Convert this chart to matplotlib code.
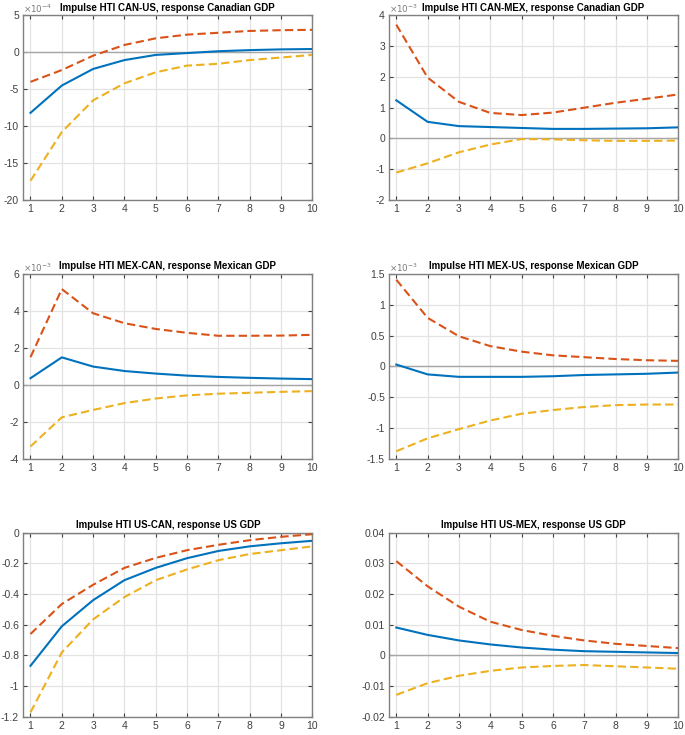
"""
Impulse responses (HTI shocks) on GDP, 3x2 panel grid in MATLAB style
"""

import matplotlib
matplotlib.use('Agg')
import matplotlib.pyplot as plt
from matplotlib.ticker import FuncFormatter, MultipleLocator

plt.rcParams['axes.unicode_minus'] = False
plt.rcParams['font.family'] = 'Liberation Sans'

horizon = [1, 2, 3, 4, 5, 6, 7, 8, 9, 10]

titles = ['Impulse HTI CAN-US, response Canadian GDP',
          'Impulse HTI CAN-MEX, response Canadian GDP',
          'Impulse HTI MEX-CAN, response Mexican GDP',
          'Impulse HTI MEX-US, response Mexican GDP',
          'Impulse HTI US-CAN, response US GDP',
          'Impulse HTI US-MEX, response US GDP']

# point estimates
irf_can_us = [-8.2e-4, -4.5e-4, -2.25e-4, -1.05e-4, -0.35e-4, -0.1e-4, 0.15e-4, 0.3e-4, 0.4e-4, 0.45e-4]
irf_can_mex = [1.24e-3, 0.54e-3, 0.40e-3, 0.37e-3, 0.34e-3, 0.31e-3, 0.31e-3, 0.32e-3, 0.33e-3, 0.36e-3]
irf_mex_can = [0.36e-3, 1.49e-3, 0.99e-3, 0.75e-3, 0.61e-3, 0.50e-3, 0.43e-3, 0.38e-3, 0.34e-3, 0.31e-3]
irf_mex_us = [0.03e-3, -0.13e-3, -0.17e-3, -0.17e-3, -0.17e-3, -0.16e-3, -0.14e-3, -0.13e-3, -0.12e-3, -0.10e-3]
irf_us_can = [-0.867, -0.61, -0.44, -0.31, -0.23, -0.167, -0.12, -0.09, -0.07, -0.054]
irf_us_mex = [0.0091, 0.0067, 0.0049, 0.0036, 0.0026, 0.0019, 0.0014, 0.0012, 0.0010, 0.0008]

# upper bands
up_can_us = [-4.0e-4, -2.4e-4, -0.45e-4, 1.0e-4, 1.9e-4, 2.4e-4, 2.65e-4, 2.9e-4, 3.0e-4, 3.05e-4]
up_can_mex = [3.7e-3, 1.98e-3, 1.19e-3, 0.83e-3, 0.76e-3, 0.84e-3, 1.0e-3, 1.16e-3, 1.29e-3, 1.43e-3]
up_mex_can = [1.5e-3, 5.19e-3, 3.88e-3, 3.34e-3, 3.03e-3, 2.82e-3, 2.66e-3, 2.66e-3, 2.67e-3, 2.71e-3]
up_mex_us = [1.41e-3, 0.79e-3, 0.49e-3, 0.33e-3, 0.24e-3, 0.18e-3, 0.15e-3, 0.12e-3, 0.10e-3, 0.09e-3]
up_us_can = [-0.66, -0.465, -0.34, -0.23, -0.165, -0.115, -0.08, -0.05, -0.028, -0.011]
up_us_mex = [0.0307, 0.0225, 0.0159, 0.011, 0.0083, 0.0064, 0.0049, 0.0038, 0.0031, 0.0024]

# lower bands
lo_can_us = [-17.4e-4, -10.8e-4, -6.5e-4, -4.2e-4, -2.7e-4, -1.8e-4, -1.55e-4, -1.05e-4, -0.7e-4, -0.35e-4]
lo_can_mex = [-1.11e-3, -0.81e-3, -0.45e-3, -0.2e-3, -0.02e-3, -0.03e-3, -0.06e-3, -0.08e-3, -0.08e-3, -0.07e-3]
lo_mex_can = [-3.34e-3, -1.76e-3, -1.36e-3, -0.99e-3, -0.74e-3, -0.57e-3, -0.48e-3, -0.43e-3, -0.38e-3, -0.34e-3]
lo_mex_us = [-1.38e-3, -1.17e-3, -1.02e-3, -0.88e-3, -0.77e-3, -0.71e-3, -0.66e-3, -0.63e-3, -0.62e-3, -0.62e-3]
lo_us_can = [-1.17, -0.78, -0.565, -0.42, -0.31, -0.24, -0.18, -0.14, -0.115, -0.09]
lo_us_mex = [-0.0128, -0.009, -0.0066, -0.005, -0.0039, -0.0034, -0.0031, -0.0035, -0.0039, -0.0043]

irfs = [irf_can_us, irf_can_mex, irf_mex_can, irf_mex_us, irf_us_can, irf_us_mex]
uppers = [up_can_us, up_can_mex, up_mex_can, up_mex_us, up_us_can, up_us_mex]
lowers = [lo_can_us, lo_can_mex, lo_mex_can, lo_mex_us, lo_us_can, lo_us_mex]

# y axis: limits, tick step, exponent shown above the axes (0 = none)
ylims = [(-20e-4, 5e-4), (-2e-3, 4e-3), (-4e-3, 6e-3), (-1.5e-3, 1.5e-3), (-1.2, 0), (-0.02, 0.04)]
ysteps = [5e-4, 1e-3, 2e-3, 0.5e-3, 0.2, 0.01]
exps = [-4, -3, -3, -3, 0, 0]

blue = '#0072BD'
red = '#D95319'
yellow = '#EDB120'

fig = plt.figure(figsize=(6.85, 7.35), dpi=100)

lefts = [0.034, 0.568]
bottoms = [0.728, 0.376, 0.0245]
w, h = 0.422, 0.251

for i in range(6):
    ax = fig.add_axes([lefts[i % 2], bottoms[i // 2], w, h])

    ax.axhline(0, color='#a6a6a6', lw=1.0, zorder=1)
    ax.plot(horizon, uppers[i], color=red, lw=1.5, dashes=(4, 2), zorder=3)
    ax.plot(horizon, lowers[i], color=yellow, lw=1.5, dashes=(4, 2), zorder=3)
    ax.plot(horizon, irfs[i], color=blue, lw=1.5, zorder=4)

    ax.set_xlim(0.77, 10)
    ax.set_ylim(*ylims[i])
    ax.set_xticks(horizon)
    ax.yaxis.set_major_locator(MultipleLocator(ysteps[i]))

    scale = 10.0 ** exps[i]
    ax.yaxis.set_major_formatter(FuncFormatter(lambda v, p, s=scale: '%g' % round(v / s, 6)))
    if exps[i] != 0:
        ax.text(0.0, 1.0, r'$\times 10^{%d}$' % exps[i], transform=ax.transAxes,
                fontsize=6.3, color='#7a7a7a', ha='left', va='bottom')

    ax.grid(True, color='#e3e3e3', lw=0.9)
    ax.set_axisbelow(True)
    ax.tick_params(direction='in', length=3, top=True, right=True,
                   labelsize=7.5, colors='#404040', pad=3)
    for sp in ax.spines.values():
        sp.set_color('#808080')
        sp.set_linewidth(1.0)

    ax.set_title(titles[i], fontsize=7, fontweight='bold', pad=3.5)

plt.savefig('out.png', dpi=100)
